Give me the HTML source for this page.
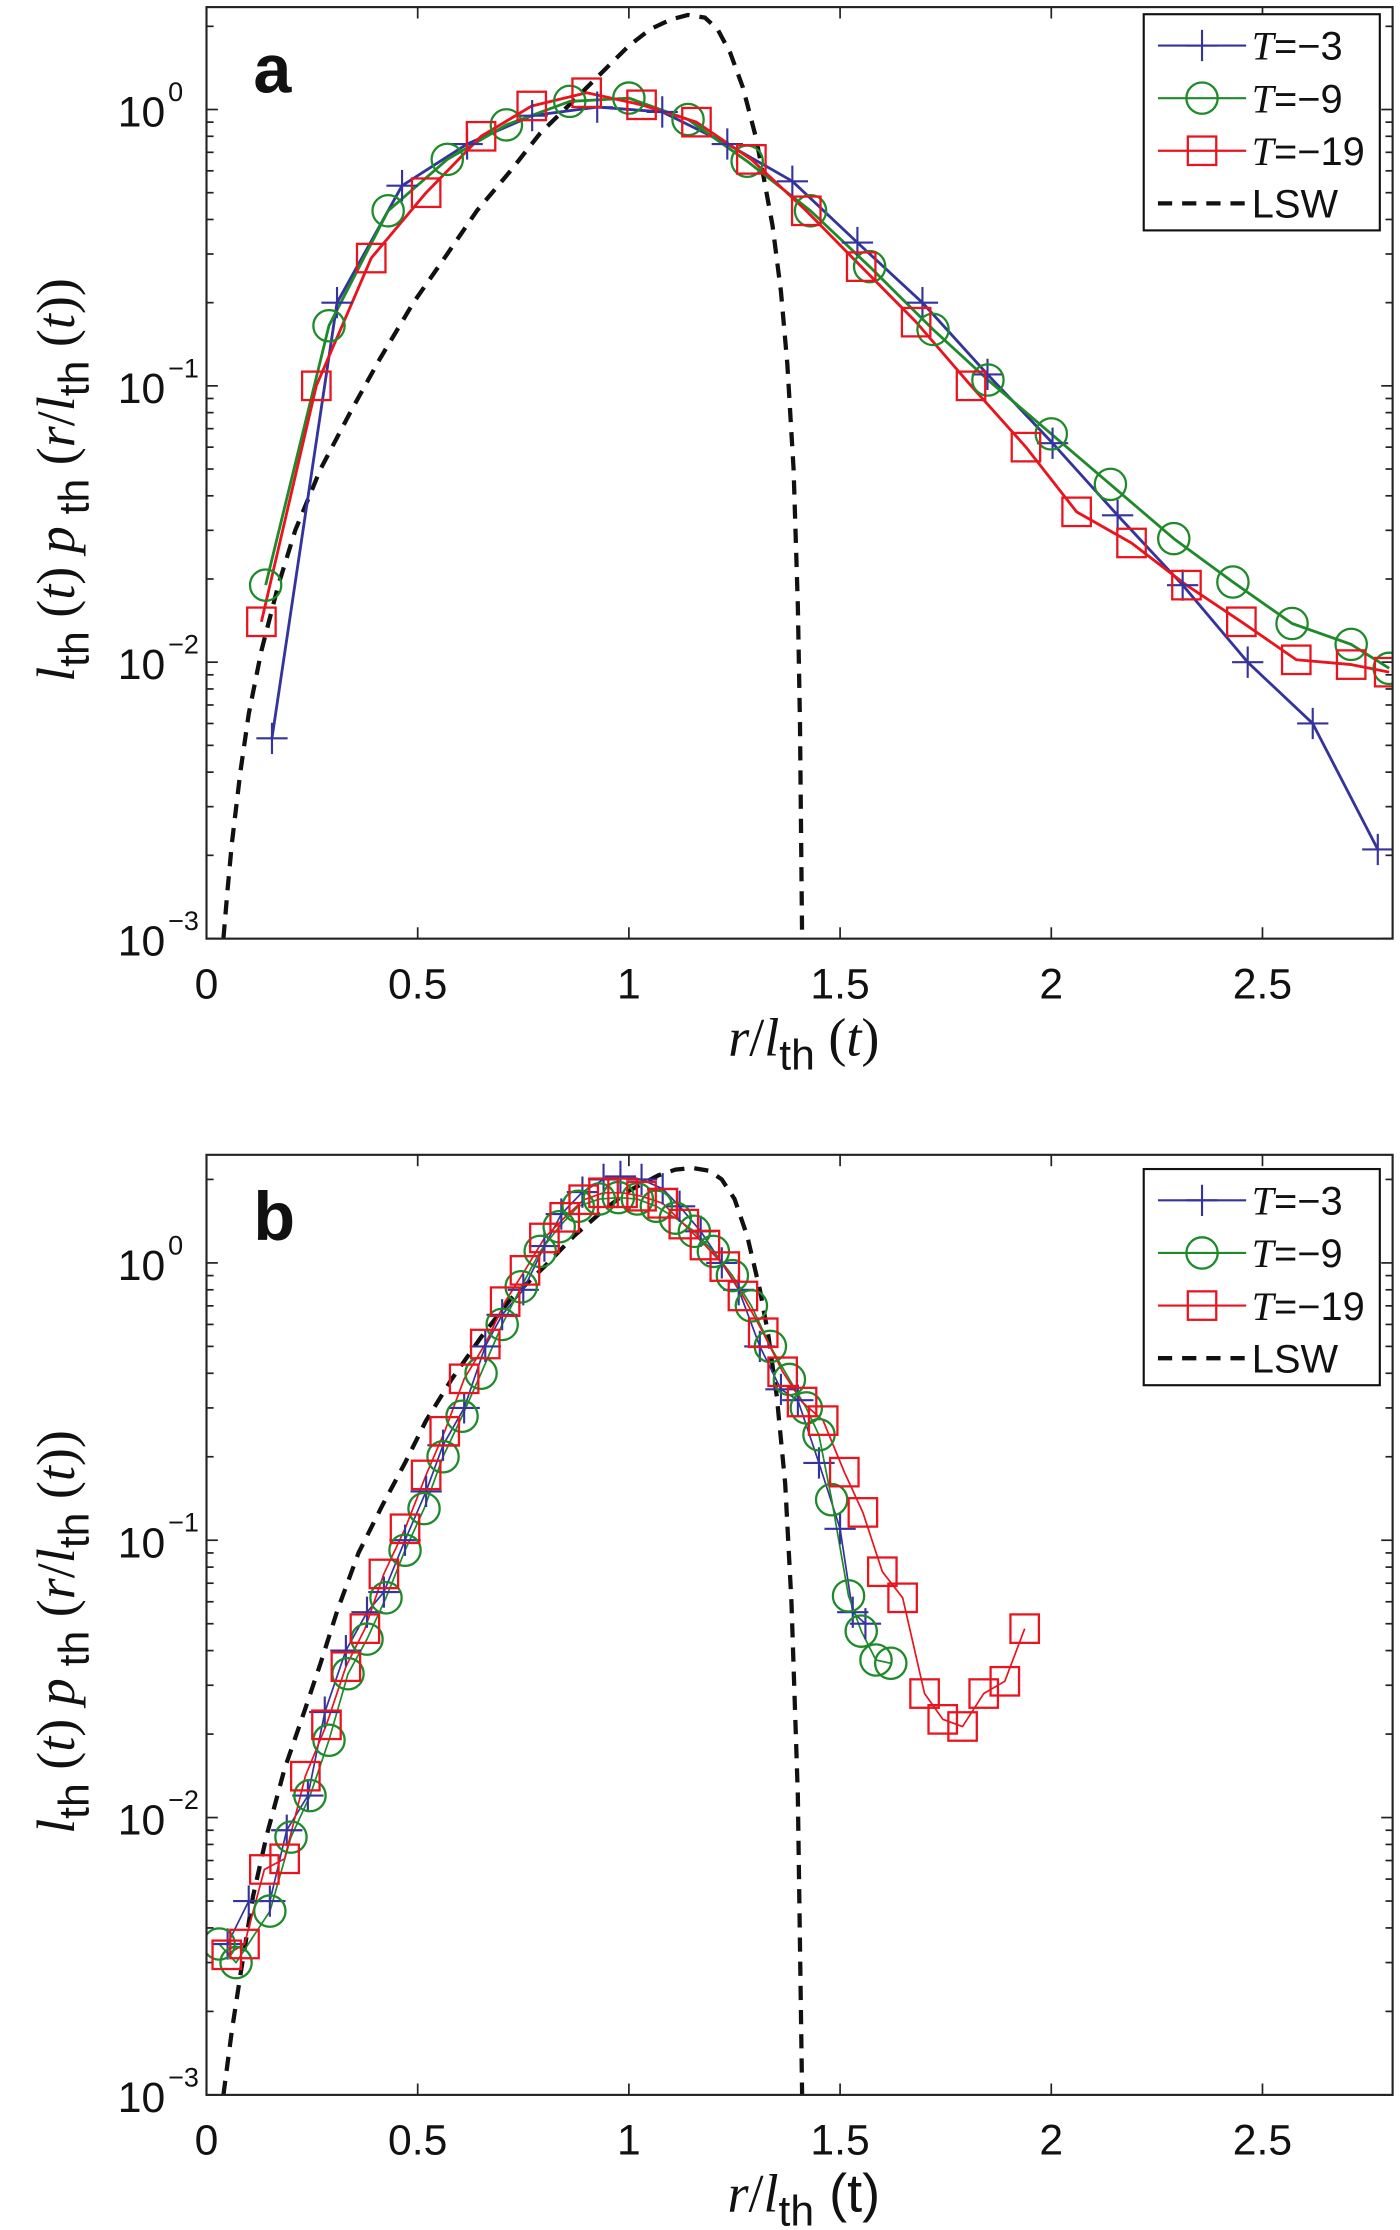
<!DOCTYPE html>
<html><head><meta charset="utf-8">
<style>
html,body{margin:0;padding:0;background:#fff;}
svg{display:block;}
text{fill:#111;}
.sans{font-family:"Liberation Sans",sans-serif;}
.serif{font-family:"Liberation Serif",serif;}
</style></head>
<body>
<svg id="fig" width="1400" height="2230" viewBox="0 0 984 1568" xmlns="http://www.w3.org/2000/svg"></svg>
<script>
// ---------- data ----------
const xTicks = [0, 0.5, 1, 1.5, 2, 2.5];
const xTickLabels = ["0", "0.5", "1", "1.5", "2", "2.5"];
const yTickExps = [0, -1, -2, -3];
const seriesNames = ["T=\u22123", "T=\u22129", "T=\u221219", "LSW"];

// panel a
const aBlueX = [0.155,0.309,0.463,0.617,0.771,0.925,1.079,1.233,1.387,1.541,1.695,1.849,2.003,2.157,2.311,2.465,2.619,2.773];
const aBlueY = [0.0053,0.2,0.53,0.75,0.95,1.02,0.98,0.75,0.55,0.33,0.2,0.11,0.062,0.034,0.019,0.01,0.006,0.0021];
const aGreenX = [0.14,0.29,0.43,0.57,0.71,0.86,1.0,1.14,1.28,1.43,1.57,1.72,1.85,2.0,2.14,2.29,2.43,2.57,2.71,2.8];
const aGreenY = [0.019,0.165,0.43,0.66,0.88,1.07,1.1,0.92,0.65,0.43,0.27,0.16,0.105,0.067,0.044,0.028,0.0195,0.0138,0.0116,0.0095];
const aRedX = [0.13,0.26,0.39,0.52,0.65,0.77,0.9,1.03,1.16,1.29,1.42,1.55,1.68,1.81,1.94,2.06,2.19,2.32,2.45,2.58,2.71,2.8];
const aRedY = [0.014,0.1,0.29,0.5,0.8,1.03,1.15,1.04,0.9,0.66,0.43,0.27,0.17,0.1,0.06,0.035,0.027,0.019,0.014,0.0102,0.0098,0.0092];
const aLswX = [0.04,0.05,0.06,0.08,0.1,0.13,0.17,0.21,0.27,0.34,0.41,0.49,0.57,0.64,0.72,0.79,0.87,0.94,1.0,1.05,1.1,1.14,1.18,1.21,1.24,1.27,1.3,1.32,1.34,1.36,1.375,1.39,1.4,1.405,1.41];
const aLswY = [0.001,0.0015,0.0022,0.004,0.0065,0.011,0.019,0.03,0.05,0.08,0.125,0.2,0.3,0.43,0.6,0.82,1.08,1.38,1.7,1.95,2.12,2.2,2.15,1.95,1.6,1.2,0.8,0.56,0.38,0.22,0.12,0.05,0.016,0.006,0.001];

// panel b
const bBlueX = [0.05,0.1,0.15,0.19,0.24,0.28,0.33,0.38,0.42,0.47,0.52,0.56,0.61,0.66,0.7,0.75,0.8,0.84,0.89,0.94,0.98,1.03,1.08,1.12,1.17,1.22,1.26,1.31,1.36,1.4,1.45,1.5,1.53,1.56];
const bBlueY = [0.0035,0.005,0.005,0.009,0.012,0.024,0.04,0.055,0.065,0.1,0.15,0.22,0.3,0.5,0.65,0.8,1.15,1.5,1.8,2.0,2.05,2.0,1.85,1.6,1.3,1.0,0.8,0.5,0.35,0.32,0.19,0.11,0.055,0.05];
const bGreenX = [0.03,0.07,0.15,0.2,0.245,0.29,0.335,0.38,0.425,0.47,0.515,0.56,0.605,0.65,0.7,0.745,0.79,0.835,0.88,0.93,0.975,1.02,1.065,1.11,1.155,1.2,1.245,1.29,1.335,1.38,1.42,1.45,1.48,1.52,1.55,1.585,1.62];
const bGreenY = [0.0035,0.003,0.0046,0.0085,0.012,0.019,0.033,0.044,0.062,0.092,0.13,0.2,0.28,0.4,0.6,0.82,1.1,1.35,1.6,1.7,1.72,1.7,1.6,1.45,1.3,1.1,0.9,0.7,0.5,0.38,0.3,0.24,0.14,0.063,0.047,0.037,0.036];
const bRedX = [0.048,0.09,0.137,0.185,0.234,0.284,0.33,0.375,0.42,0.47,0.52,0.564,0.61,0.66,0.707,0.754,0.8,0.848,0.893,0.94,0.985,1.03,1.08,1.13,1.18,1.227,1.27,1.318,1.364,1.41,1.46,1.51,1.554,1.6,1.648,1.7,1.743,1.79,1.84,1.89,1.937];
const bRedY = [0.0032,0.0035,0.0065,0.0071,0.0141,0.0216,0.035,0.048,0.0756,0.11,0.172,0.247,0.382,0.51,0.725,0.94,1.23,1.46,1.69,1.79,1.79,1.74,1.64,1.38,1.16,0.97,0.76,0.56,0.405,0.315,0.27,0.176,0.126,0.077,0.062,0.028,0.0226,0.0213,0.028,0.031,0.048];
const bLswX = [0.04,0.06,0.08,0.11,0.143,0.185,0.227,0.27,0.31,0.36,0.417,0.47,0.52,0.58,0.65,0.72,0.8,0.87,0.94,1.0,1.07,1.11,1.15,1.19,1.22,1.25,1.28,1.31,1.33,1.35,1.37,1.385,1.4,1.41];
const bLswY = [0.001,0.0017,0.0027,0.0052,0.0087,0.015,0.023,0.036,0.056,0.09,0.134,0.19,0.27,0.38,0.54,0.74,0.97,1.25,1.55,1.82,2.07,2.17,2.2,2.15,2.0,1.7,1.25,0.8,0.55,0.33,0.16,0.06,0.012,0.001];

// ---------- drawing ----------
const NS = "http://www.w3.org/2000/svg";
const svg = document.getElementById("fig");
function mk(tag, attrs, parent) {
  const e = document.createElementNS(NS, tag);
  for (const k in attrs) e.setAttribute(k, attrs[k]);
  (parent || svg).appendChild(e);
  return e;
}
const BLUE = "#34349c", GREEN = "#1f8a2a", RED = "#e8141e";

function panel(cfg) {
  const L = 145, R = 979, T = cfg.top, B = cfg.bottom, y0 = cfg.y0, dec = cfg.dec;
  const X = v => L + 297 * v;
  const Y = p => y0 - dec * Math.log10(p);
  const g = mk("g", {});
  
  
  const clipId = cfg.name + "-clip";
  const cp = mk("clipPath", {id: clipId}, g);
  mk("rect", {x: L, y: T, width: R - L, height: B - T}, cp);

  const tg = mk("g", {stroke: "#222", "stroke-width": 1.2}, g);
  
  
  xTicks.forEach((v, i) => {
    const x = X(v);
    mk("line", {x1: x, y1: B, x2: x, y2: B - 8}, tg);
    mk("line", {x1: x, y1: T, x2: x, y2: T + 8}, tg);
    const t = mk("text", {x: x, y: B + 42, "text-anchor": "middle", "font-size": 30, class: "sans"}, g);
    t.textContent = xTickLabels[i];
    
    
  });
  for (let e = -3; e <= 0; e++) {
    for (let m = 1; m <= 9; m++) {
      const y = Y(m * Math.pow(10, e));
      if (y < T || y > B) continue;
      const len = m === 1 ? 8 : 5;
      mk("line", {x1: L, y1: y, x2: L + len, y2: y}, tg);
      mk("line", {x1: R, y1: y, x2: R - len, y2: y}, tg);
    }
  }
  yTickExps.forEach(e => {
    const y = Y(Math.pow(10, e));
    const t = mk("text", {x: 116, y: y + 12, "text-anchor": "end", "font-size": 30, class: "sans"}, g);
    t.textContent = "10";
    
    
    const s = mk("text", {x: 118, y: y - 6, "font-size": 19, class: "sans"}, g);
    s.textContent = e === 0 ? "0" : "\u2212" + (-e);
    
    
  });

  const dg = mk("g", {"clip-path": "url(#" + clipId + ")"}, g);
  
  

  function line(xs, ys, color, w, dash, name) {
    const d = xs.map((v, i) => (i ? "L" : "M") + X(v).toFixed(1) + "," + Y(ys[i]).toFixed(1)).join("");
    const p = mk("path", {d: d, fill: "none", stroke: color, "stroke-width": w, "stroke-linejoin": "round"}, dg);
    if (dash) p.setAttribute("stroke-dasharray", dash);
    
    
  }
  function markers(xs, ys, kind, color, sz, name) {
    xs.forEach((v, i) => {
      const cx = X(v), cy = Y(ys[i]);
      let el;
      if (kind === "plus") {
        el = mk("path", {d: `M${cx - sz},${cy}H${cx + sz}M${cx},${cy - sz}V${cy + sz}`, stroke: color, "stroke-width": 1.5, fill: "none"}, dg);
      } else if (kind === "circle") {
        el = mk("circle", {cx: cx, cy: cy, r: sz, stroke: color, "stroke-width": 1.6, fill: "none"}, dg);
      } else {
        el = mk("rect", {x: cx - sz, y: cy - sz, width: 2 * sz, height: 2 * sz, stroke: color, "stroke-width": 1.6, fill: "none"}, dg);
      }
      
      
    });
  }
  const lw = cfg.lw;
  line(cfg.lx, cfg.ly, "#111", 3, "10,7", "lsw-curve");
  line(cfg.bx, cfg.by, BLUE, lw, null, "series-t3-line");
  line(cfg.gx, cfg.gy, GREEN, lw, null, "series-t9-line");
  line(cfg.rx, cfg.ry, RED, lw, null, "series-t19-line");
  markers(cfg.bx, cfg.by, "plus", BLUE, 11, "series-t3-point");
  markers(cfg.gx, cfg.gy, "circle", GREEN, 11, "series-t9-point");
  markers(cfg.rx, cfg.ry, "square", RED, 10, "series-t19-point");

  const fr = mk("rect", {x: L, y: T, width: R - L, height: B - T, fill: "none", stroke: "#222", "stroke-width": 1.5}, g);
  
  

  const lab = mk("text", {x: 178, y: T + 60, "font-size": 48, "font-weight": "bold", class: "sans"}, g);
  lab.textContent = cfg.letter;
  
  

  const lg = mk("g", {}, g);
  
  
  const lx = 804, ly = cfg.legTop;
  mk("rect", {x: lx, y: ly, width: 166, height: 152, fill: "#fff", stroke: "#111", "stroke-width": 1.5}, lg);
  const cols = [BLUE, GREEN, RED, "#111"];
  seriesNames.forEach((n, i) => {
    const yy = ly + 22 + i * 37;
    const e = mk("g", {}, lg);
    
    
    const ln = mk("line", {x1: lx + 10, y1: yy, x2: lx + 72, y2: yy, stroke: cols[i], "stroke-width": i === 3 ? 3 : 1.5}, e);
    if (i === 3) ln.setAttribute("stroke-dasharray", "10,7");
    const c = lx + 41;
    if (i === 0) mk("path", {d: `M${c - 11},${yy}H${c + 11}M${c},${yy - 11}V${yy + 11}`, stroke: BLUE, "stroke-width": 1.5}, e);
    if (i === 1) mk("circle", {cx: c, cy: yy, r: 11, stroke: GREEN, "stroke-width": 1.6, fill: "none"}, e);
    if (i === 2) mk("rect", {x: c - 10, y: yy - 10, width: 20, height: 20, stroke: RED, "stroke-width": 1.6, fill: "none"}, e);
    const t = mk("text", {x: lx + 76, y: yy + 10, "font-size": 28, class: "sans"}, e);
    if (i < 3) {
      const it = mk("tspan", {style: "font-family:'Liberation Serif',serif;font-style:italic"}, t);
      it.textContent = "T";
      const rest = mk("tspan", {}, t);
      rest.textContent = n.slice(1);
    } else t.textContent = n;
  });

  const xt = mk("text", {x: 565, y: B + 82, "text-anchor": "middle", "font-size": 38, class: "serif"}, g);
  
  
  xt.innerHTML = cfg.xtitle;
  const yt = mk("text", {x: 0, y: 0, "text-anchor": "middle", "font-size": 38, class: "serif", transform: `translate(52,${(T + B) / 2 + 5}) rotate(-90)`}, g);
  
  
  yt.innerHTML = '<tspan font-style="italic">l</tspan><tspan font-size="30" dy="10" class="sans">th</tspan><tspan dy="-10"> (</tspan><tspan font-style="italic">t</tspan><tspan>)  </tspan><tspan font-style="italic"> p</tspan><tspan font-size="30" dy="10" class="sans"> th</tspan><tspan dy="-10"> (</tspan><tspan font-style="italic">r</tspan><tspan>/</tspan><tspan font-style="italic">l</tspan><tspan font-size="30" dy="10" class="sans">th</tspan><tspan dy="-10"> (</tspan><tspan font-style="italic">t</tspan><tspan>))</tspan>';
}

panel({name: "panel-a", letter: "a", top: 5, bottom: 660, y0: 77, dec: 194.3, legTop: 10, lw: 2,
  lx: aLswX, ly: aLswY,
  bx: aBlueX, by: aBlueY, gx: aGreenX, gy: aGreenY, rx: aRedX, ry: aRedY,
  xtitle: '<tspan font-style="italic">r</tspan>/<tspan font-style="italic">l</tspan><tspan font-size="30" dy="10" class="sans">th</tspan><tspan dy="-10"> (</tspan><tspan font-style="italic">t</tspan>)'});
panel({name: "panel-b", letter: "b", top: 812, bottom: 1473, y0: 888, dec: 195, legTop: 822, lw: 1.2,
  lx: bLswX, ly: bLswY,
  bx: bBlueX, by: bBlueY, gx: bGreenX, gy: bGreenY, rx: bRedX, ry: bRedY,
  xtitle: '<tspan font-style="italic">r</tspan>/<tspan font-style="italic">l</tspan><tspan font-size="30" dy="10" class="sans">th</tspan><tspan dy="-10" class="sans"> (t)</tspan>'});
</script>
</body></html>
